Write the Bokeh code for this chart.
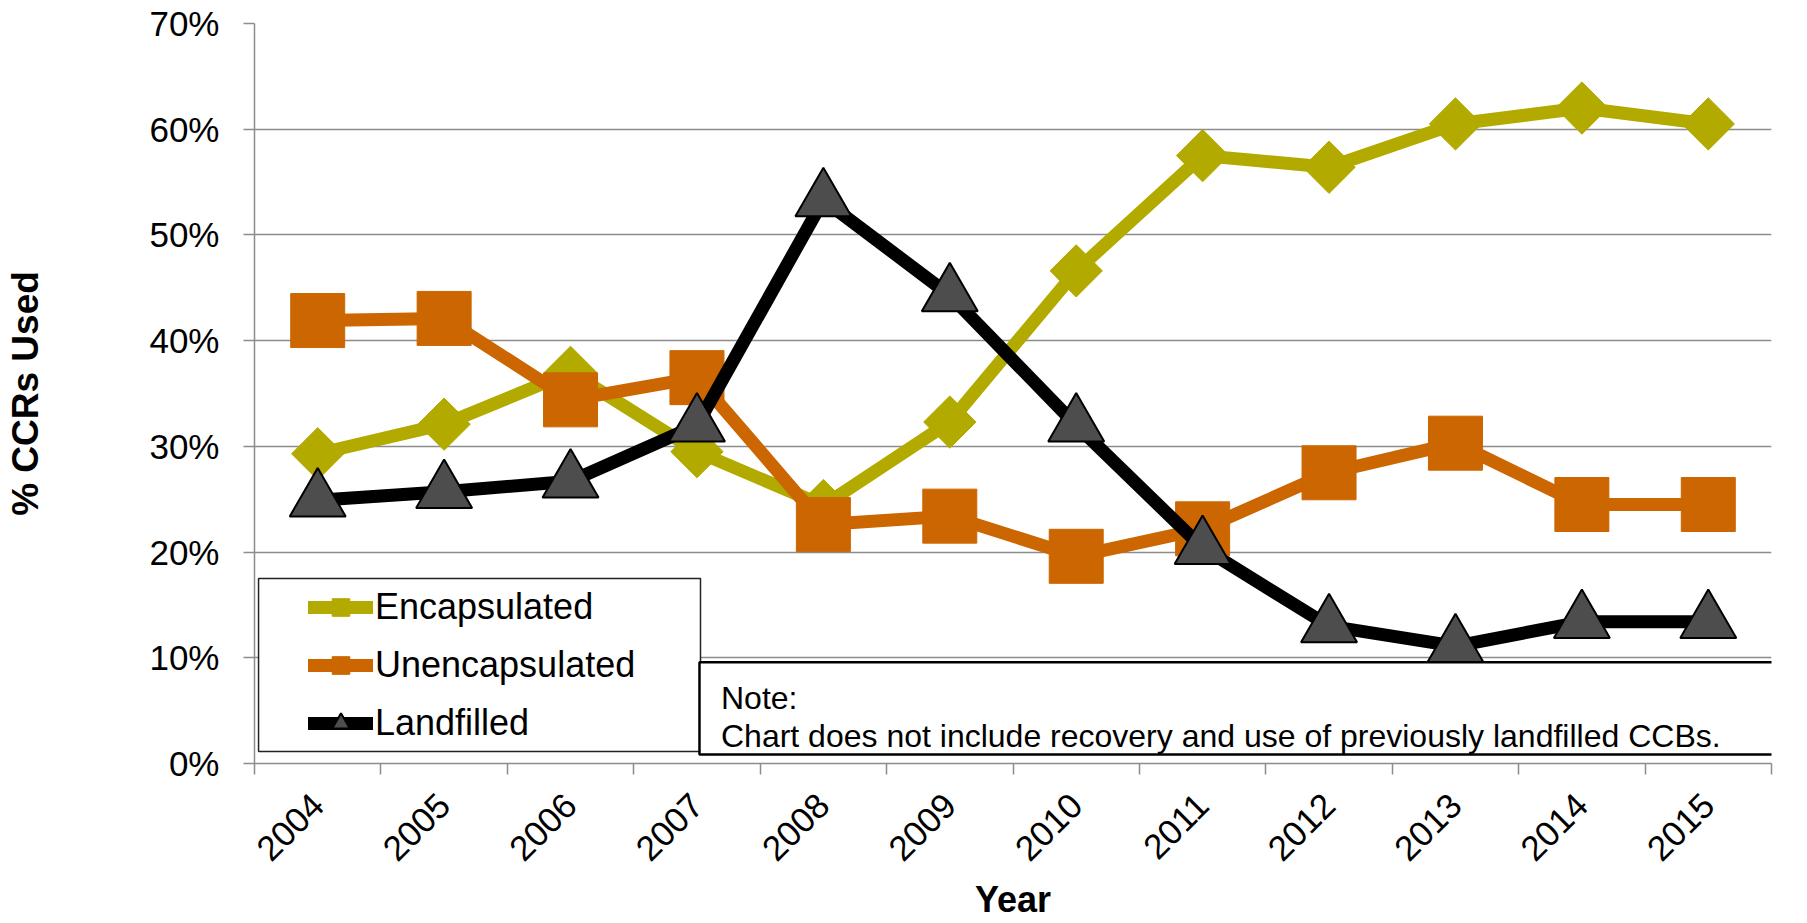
import math
from bokeh.plotting import figure
from bokeh.models import (ColumnDataSource, Range1d, FixedTicker, PrintfTickFormatter,
                          Legend, LegendItem, BoxAnnotation, Label)
from bokeh.embed import file_html
from bokeh.resources import INLINE

# ---- data ----
years = ["2004", "2005", "2006", "2007", "2008", "2009",
         "2010", "2011", "2012", "2013", "2014", "2015"]
encapsulated = [29.3, 32.1, 37.0, 29.5, 24.4, 32.3, 46.6, 57.5, 56.4, 60.5, 62.0, 60.5]
unencapsulated = [41.9, 42.1, 34.4, 36.5, 22.6, 23.4, 19.6, 22.2, 27.5, 30.3, 24.5, 24.5]
landfilled = [24.9, 25.7, 26.7, 32.0, 53.3, 44.3, 32.0, 20.4, 13.0, 11.1, 13.4, 13.4]
series_names = ["Encapsulated", "Unencapsulated", "Landfilled"]
y_ticks = [0, 10, 20, 30, 40, 50, 60, 70]
x_title = "Year"
y_title = "% CCRs Used"
note_title = "Note:"
note_text = "Chart does not include recovery and use of previously landfilled CCBs."

FONT = "Liberation Sans"
ENC = "#B3AA00"
UNENC = "#CC6600"
LAND = "#000000"
TRI_FILL = "#4D4D4D"
GRID = "#8c8c8c"

x_pos = list(range(len(years)))
src = ColumnDataSource(dict(x=x_pos, enc=encapsulated, unenc=unencapsulated, land=landfilled))

p = figure(width=1807, height=923,
           x_range=Range1d(-0.5, len(years) - 0.5), y_range=Range1d(0, 70),
           output_backend="svg", toolbar_location=None,
           min_border_left=254, min_border_right=36, min_border_top=23, min_border_bottom=160)
p.outline_line_color = None
p.background_fill_color = "white"
p.xgrid.visible = False
p.ygrid.ticker = FixedTicker(ticks=y_ticks)
p.ygrid.grid_line_color = GRID
p.ygrid.grid_line_width = 1.5

# y axis
yax = p.yaxis[0]
yax.ticker = FixedTicker(ticks=y_ticks)
yax.formatter = PrintfTickFormatter(format="%d%%")
yax.axis_line_color = GRID
yax.axis_line_width = 1.5
yax.major_tick_line_color = GRID
yax.major_tick_line_width = 1.5
yax.major_tick_out = 11
yax.major_tick_in = 0
yax.minor_tick_line_color = None
yax.major_label_text_font = FONT
yax.major_label_text_font_size = "35px"
yax.major_label_text_color = "black"
yax.major_label_standoff = 24
yax.axis_label = y_title
yax.axis_label_text_font = FONT
yax.axis_label_text_font_style = "bold"
yax.axis_label_text_font_size = "37px"
yax.axis_label_text_color = "black"
yax.axis_label_standoff = 100

# x axis: labels at category centres, tick marks at category boundaries
xax = p.xaxis[0]
xax.ticker = FixedTicker(ticks=x_pos, minor_ticks=[i - 0.5 for i in range(len(years) + 1)])
xax.major_label_overrides = {i: y for i, y in zip(x_pos, years)}
xax.major_tick_line_color = None
xax.minor_tick_line_color = GRID
xax.minor_tick_line_width = 1.5
xax.minor_tick_out = 11
xax.minor_tick_in = 0
xax.axis_line_color = GRID
xax.axis_line_width = 1.5
xax.major_label_orientation = math.pi / 4
xax.major_label_text_font = FONT
xax.major_label_text_font_size = "35px"
xax.major_label_text_color = "black"
xax.major_label_standoff = 25
xax.axis_label = x_title
xax.axis_label_text_font = FONT
xax.axis_label_text_font_style = "bold"
xax.axis_label_text_font_size = "36px"
xax.axis_label_text_color = "black"
xax.axis_label_standoff = 4

# series
enc_line = p.line("x", "enc", source=src, line_color=ENC, line_width=13,
                  line_join="round", line_cap="round")
enc_pts = p.scatter("x", "enc", source=src, marker="square", angle=math.pi / 4, size=37,
                    fill_color=ENC, line_color=ENC)
unenc_line = p.line("x", "unenc", source=src, line_color=UNENC, line_width=13,
                    line_join="round", line_cap="round")
unenc_pts = p.scatter("x", "unenc", source=src, marker="square", size=54,
                      fill_color=UNENC, line_color=UNENC)
land_line = p.line("x", "land", source=src, line_color=LAND, line_width=13,
                   line_join="round", line_cap="round")
land_pts = p.scatter("x", "land", source=src, marker="triangle", size=56,
                     fill_color=TRI_FILL, line_color="black", line_width=2)

# legend frame
legend_box = BoxAnnotation(left=-0.468, right=3.028, bottom=1.135, top=17.5,
                           fill_color="white", fill_alpha=1.0,
                           line_color="#222222", line_alpha=1.0, line_width=1.5)
p.add_layout(legend_box)

legend = Legend(items=[
    LegendItem(label=series_names[0], renderers=[enc_line, enc_pts]),
    LegendItem(label=series_names[1], renderers=[unenc_line, unenc_pts]),
    LegendItem(label=series_names[2], renderers=[land_line, land_pts]),
], location=(54, 18))
legend.label_text_font = FONT
legend.label_text_font_size = "36px"
legend.label_text_color = "black"
legend.glyph_width = 65
legend.glyph_height = 44
legend.label_height = 44
legend.label_standoff = 2
legend.spacing = 14
legend.padding = 0
legend.margin = 0
legend.border_line_alpha = 0
legend.background_fill_alpha = 0
p.add_layout(legend, "center")

# note box
note_box = BoxAnnotation(left=3.02, right=11.74, bottom=0.85, top=9.57,
                         fill_color="white", fill_alpha=1.0,
                         line_color="black", line_alpha=1.0, line_width=2.5)
p.add_layout(note_box)
p.add_layout(Label(x=3.19, y=6.2, text=note_title, text_font=FONT,
                   text_font_size="32px", text_color="black", text_baseline="alphabetic"))
p.add_layout(Label(x=3.19, y=2.6, text=note_text, text_font=FONT,
                   text_font_size="32px", text_color="black", text_baseline="alphabetic"))

open("out.html", "w").write(file_html(p, INLINE))
